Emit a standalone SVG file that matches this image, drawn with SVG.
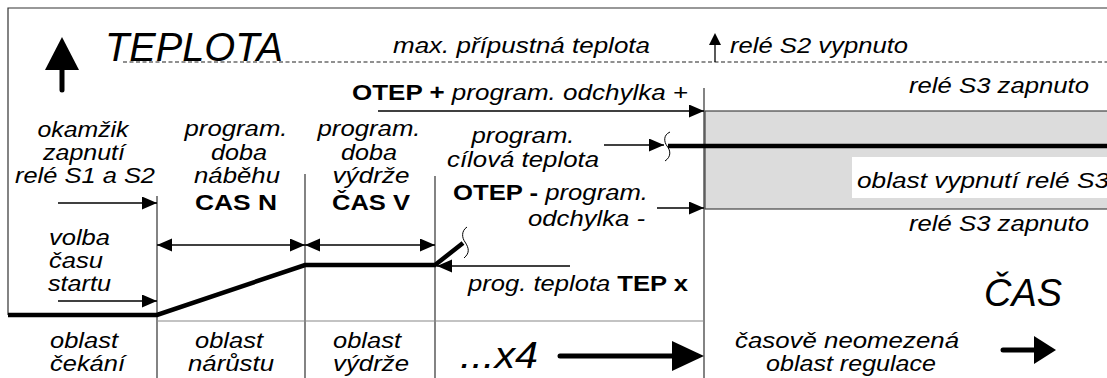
<svg xmlns="http://www.w3.org/2000/svg" width="1107" height="378" viewBox="0 0 1107 378">
<defs>
<style>
text{font-family:"Liberation Sans",Arial,sans-serif;font-size:22px;font-style:italic;fill:#000}
.b{font-style:normal;font-weight:bold}
.c{text-anchor:middle}
.e{text-anchor:end}
.big{font-size:40px}
.thin{stroke:#000;stroke-width:1.3;fill:none}
.grid{stroke:#333;stroke-width:1.2;fill:none}
.thick{stroke:#000;stroke-width:4.5;fill:none}
.sq{stroke:#000;stroke-width:1;fill:none}
.head{fill:#000;stroke:none}
</style>
<marker id="ah" markerUnits="userSpaceOnUse" markerWidth="16" markerHeight="14" refX="15" refY="6.5" orient="auto-start-reverse" viewBox="0 0 16 14"><path d="M0,0 L15,6.5 L0,13 z" fill="#000"/></marker>
</defs>
<rect x="0" y="0" width="1107" height="378" fill="#fff"/>

<g id="frame">
<path class="grid" d="M8,315 V8 H1107"/>
<path d="M123,62 H1107" stroke="#222" stroke-width="1.1" stroke-dasharray="4 2.5" fill="none"/>
<path class="grid" d="M157,196 V378 M305,174 V378 M435,176 V378 M704,88 V378"/>
<path d="M157,321 H704" stroke="#888" stroke-width="1.2" fill="none"/>
</g>

<g id="off-zone">
<rect x="705" y="111" width="403" height="98" fill="#dcdcdc" stroke="#444" stroke-width="1.2"/>
<rect x="852" y="157" width="260" height="41" fill="#fff"/>
<text x="857" y="188" textLength="252" lengthAdjust="spacingAndGlyphs">oblast vypnutí relé S3</text>
</g>

<g id="temperature-axis">
<path class="head" d="M62,37 L79,70 L45,70 z"/>
<path d="M62,68 V90" stroke="#000" stroke-width="5" stroke-linecap="round"/>
<text x="105" y="61" class="big" textLength="178" lengthAdjust="spacingAndGlyphs">TEPLOTA</text>
</g>

<g id="max-temp">
<text x="393" y="53" textLength="257" lengthAdjust="spacingAndGlyphs">max. přípustná teplota</text>
<path class="head" d="M715,33 L721,45 L709,45 z"/>
<path class="thin" d="M715,44 V62"/>
<text x="730" y="53" textLength="178" lengthAdjust="spacingAndGlyphs">relé S2 vypnuto</text>
</g>

<g id="upper-limit">
<text x="352" y="100" textLength="336" lengthAdjust="spacingAndGlyphs"><tspan class="b">OTEP +</tspan> program. odchylka +</text>
<text x="1089" y="93" class="e" textLength="180" lengthAdjust="spacingAndGlyphs">relé S3 zapnuto</text>
</g>

<g id="switch-on">
<text x="83" y="137" class="c" textLength="91" lengthAdjust="spacingAndGlyphs">okamžik</text>
<text x="84" y="160" class="c" textLength="82" lengthAdjust="spacingAndGlyphs">zapnutí</text>
<text x="85" y="183" class="c" textLength="140" lengthAdjust="spacingAndGlyphs">relé S1 a S2</text>
</g>

<g id="ramp-time">
<text x="236" y="136" class="c" textLength="103" lengthAdjust="spacingAndGlyphs">program.</text>
<text x="239" y="160" class="c" textLength="56" lengthAdjust="spacingAndGlyphs">doba</text>
<text x="237" y="183" class="c" textLength="86" lengthAdjust="spacingAndGlyphs">náběhu</text>
<text x="236" y="210" class="c b" textLength="82" lengthAdjust="spacingAndGlyphs">CAS N</text>
</g>

<g id="hold-time">
<text x="369" y="136" class="c" textLength="103" lengthAdjust="spacingAndGlyphs">program.</text>
<text x="369" y="160" class="c" textLength="56" lengthAdjust="spacingAndGlyphs">doba</text>
<text x="371" y="183" class="c" textLength="77" lengthAdjust="spacingAndGlyphs">výdrže</text>
<text x="371" y="210" class="c b" textLength="78" lengthAdjust="spacingAndGlyphs">ČAS V</text>
</g>

<g id="target-temp">
<text x="523" y="143" class="c" textLength="103" lengthAdjust="spacingAndGlyphs">program.</text>
<text x="523" y="167" class="c" textLength="152" lengthAdjust="spacingAndGlyphs">cílová teplota</text>
<path class="sq" d="M670,132 C663,135 664,142 667,146 C671,151 671,157 665,161"/>
</g>

<g id="lower-limit">
<text x="453" y="200" textLength="195" lengthAdjust="spacingAndGlyphs"><tspan class="b">OTEP -</tspan> program.</text>
<text x="528" y="226" textLength="117" lengthAdjust="spacingAndGlyphs">odchylka -</text>
<text x="1089" y="231" class="e" textLength="180" lengthAdjust="spacingAndGlyphs">relé S3 zapnuto</text>
</g>

<g id="start-time">
<text x="49" y="245" textLength="61" lengthAdjust="spacingAndGlyphs">volba</text>
<text x="49" y="268" textLength="54" lengthAdjust="spacingAndGlyphs">času</text>
<text x="48" y="291" textLength="63" lengthAdjust="spacingAndGlyphs">startu</text>
</g>

<g id="step-temp">
<text x="468" y="291" textLength="220" lengthAdjust="spacingAndGlyphs">prog. teplota <tspan class="b">TEP x</tspan></text>
<path class="sq" d="M467,227 C461,231 462,238 465,242 C469,248 470,253 464,258"/>
</g>

<g id="time-axis">
<text x="984" y="306" class="big" style="font-size:38px" textLength="78" lengthAdjust="spacingAndGlyphs">ČAS</text>
<path d="M1003,350 H1036" stroke="#000" stroke-width="5" stroke-linecap="round"/>
<path class="head" d="M1034,336 L1056,350 L1034,364 z"/>
</g>

<g id="zones">
<text x="50" y="348" textLength="68" lengthAdjust="spacingAndGlyphs">oblast</text>
<text x="50" y="371" textLength="75" lengthAdjust="spacingAndGlyphs">čekání</text>
<text x="229" y="348" class="c" textLength="68" lengthAdjust="spacingAndGlyphs">oblast</text>
<text x="231" y="371" class="c" textLength="86" lengthAdjust="spacingAndGlyphs">nárůstu</text>
<text x="333" y="348" textLength="68" lengthAdjust="spacingAndGlyphs">oblast</text>
<text x="333" y="371" textLength="76" lengthAdjust="spacingAndGlyphs">výdrže</text>
<text x="460" y="368" style="font-size:37px" textLength="78" lengthAdjust="spacingAndGlyphs">...x4</text>
<text x="847" y="348" class="c" textLength="224" lengthAdjust="spacingAndGlyphs">časově neomezená</text>
<text x="851" y="371" class="c" textLength="170" lengthAdjust="spacingAndGlyphs">oblast regulace</text>
</g>

<g id="connectors">
<path class="thick" d="M8,315 H157 L305,265 H435 L463,243"/>
<path class="thick" d="M668,146 H1107"/>
<path class="thin" marker-end="url(#ah)" d="M378,111 H704"/>
<path class="thin" marker-end="url(#ah)" d="M604,145 H664"/>
<path class="thin" marker-end="url(#ah)" d="M657,208 H704"/>
<path class="thin" marker-end="url(#ah)" d="M58,203 H157"/>
<path class="thin" marker-end="url(#ah)" d="M58,301 H157"/>
<path class="thin" marker-start="url(#ah)" marker-end="url(#ah)" d="M157,245 H305"/>
<path class="thin" marker-start="url(#ah)" marker-end="url(#ah)" d="M305,245 H435"/>
<path class="thin" marker-end="url(#ah)" d="M570,266 H437"/>
<path d="M560,356 H674" stroke="#000" stroke-width="5" stroke-linecap="round"/>
<path class="head" d="M672,341 L704,356 L672,371 z"/>
</g>
</svg>
